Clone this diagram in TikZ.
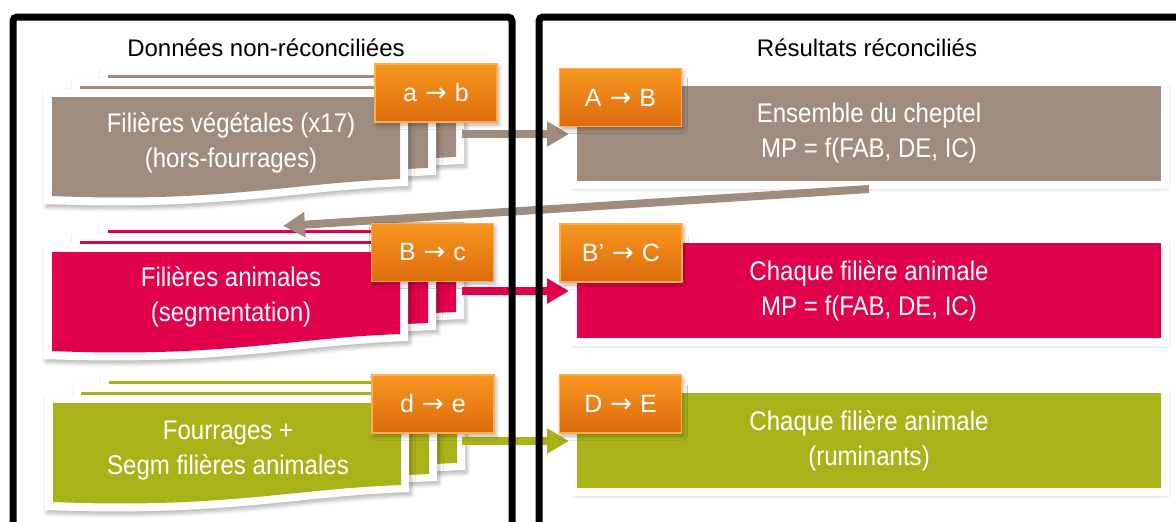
\documentclass[tikz,border=0pt]{standalone}
\usepackage{fontspec}
\setmainfont{Liberation Sans}
\newfontfamily\boxfont[FakeStretch=0.89]{Liberation Sans}
\newfontfamily\symfont{DejaVu Sans}
\usetikzlibrary{arrows.meta,shadows.blur}

\definecolor{veg}{HTML}{A08C7E}
\definecolor{ani}{HTML}{E0004E}
\definecolor{fou}{HTML}{AAB219}
\definecolor{orTop}{HTML}{F8961E}
\definecolor{orBot}{HTML}{DC6B0D}
\definecolor{orEdge}{HTML}{FBAE4F}

% arrow sign used inside the step badges
\newcommand\stepto{\hspace{4pt}{\symfont\fontsize{13}{14}\selectfont →}\hspace{4pt}}

\tikzset{
  softshadow/.style={blur shadow={shadow xshift=1pt, shadow yshift=-1.5pt,
      shadow blur steps=6, shadow opacity=30, shadow blur radius=2pt}},
  badge/.style={rectangle, minimum width=61pt, minimum height=29pt, inner sep=0pt,
      top color=orTop, bottom color=orBot, draw=orEdge, line width=0.6pt,
      text=white, font=\fontsize{12.5}{14}\selectfont, softshadow},
  resbox/.style={rectangle, minimum width=296pt, minimum height=51.5pt, inner sep=0pt,
      draw=white, line width=4pt, text=white, align=center,
      font=\boxfont\fontsize{13.5}{17.5}\selectfont, softshadow},
  cardtext/.style={text=white, align=center, inner sep=0pt,
      font=\boxfont\fontsize{13.5}{17.5}\selectfont},
  paneltitle/.style={font=\fontsize{12}{14}\selectfont, inner sep=0pt},
  panel/.style={draw=black, line width=3.5pt, rounded corners=2pt},
  flow/.style={line width=4pt, -{Triangle[length=11pt,width=12pt]}},
}

% a stacked sheet with a wavy lower edge: #1,#2 = top-left of the coloured face, #3 = colour
\newcommand\wavecard[3]{%
  \fill[white, softshadow] ({#1-8},{#2-8}) -- ({#1+356},{#2-8}) -- ({#1+356},{#2+89})
    .. controls ({#1+244},{#2+93}) and ({#1+172},{#2+114}) .. ({#1-8},{#2+107}) -- cycle;
  \fill[#3] (#1,#2) -- ({#1+348},#2) -- ({#1+348},{#2+82})
    .. controls ({#1+238},{#2+86}) and ({#1+168},{#2+106}) .. (#1,{#2+99}) -- cycle;
}

\begin{document}
\begin{tikzpicture}[x=0.5pt, y=-0.5pt]
  \useasboundingbox (0,0) rectangle (1176,521);
  \clip (0,0) rectangle (1176,521);

  % left column: stacks of sheets
  \wavecard{108}{75}{veg}
  \wavecard{80}{86}{veg}
  \wavecard{52}{97}{veg}
  \wavecard{108}{230}{ani}
  \wavecard{80}{241}{ani}
  \wavecard{52}{252}{ani}
  \wavecard{109}{381}{fou}
  \wavecard{81}{392}{fou}
  \wavecard{53}{403}{fou}

  \node[cardtext] (vegTxt) at (231,143) {Filières végétales (x17)\\(hors-fourrages)};
  \node[cardtext] (aniTxt) at (231,297) {Filières animales\\(segmentation)};
  \node[cardtext] (fouTxt) at (228,450) {Fourrages +\\Segm filières animales};

  % right column: reconciled results
  \node[resbox, fill=veg] (cheptel) at (869,133.5) {Ensemble du cheptel\\MP = f(FAB, DE, IC)};
  \node[resbox, fill=ani] (chaqueAni) at (869,290.5) {Chaque filière animale\\MP = f(FAB, DE, IC)};
  \node[resbox, fill=fou] (chaqueRum) at (869,440.5) {Chaque filière animale\\(ruminants)};

  % flows
  \coordinate (vegOut) at (462,134);
  \coordinate (aniOut) at (462,291);
  \coordinate (fouOut) at (462,441);
  \coordinate (aniIn) at (283,226);
  \draw[flow, veg] (vegOut) -- (vegOut -| cheptel.west);
  \draw[flow, veg] (cheptel.south) -- (aniIn);
  \draw[flow, ani] (aniOut) -- (aniOut -| chaqueAni.west);
  \draw[flow, fou] (fouOut) -- (fouOut -| chaqueRum.west);

  % panels
  \draw[panel] (13,560) -- (13,17) -- (512,17) -- (512,560);
  \draw[panel] (539,560) -- (539,17) -- (1220,17);
  \node[paneltitle] (tLeft) at (266,48) {Données non-réconciliées};
  \node[paneltitle] (tRight) at (867,48) {Résultats réconciliés};

  % step badges
  \node[badge] (bab) at (436,93) {a\stepto b};
  \node[badge] (bBc) at (432.5,252.5) {B\stepto c};
  \node[badge] (bde) at (433,404) {d\stepto e};
  \node[badge] (bAB) at (620.5,97.5) {A\stepto B};
  \node[badge] (bBC) at (621,253) {B’\stepto C};
  \node[badge] (bDE) at (620.5,404) {D\stepto E};
\end{tikzpicture}
\end{document}
